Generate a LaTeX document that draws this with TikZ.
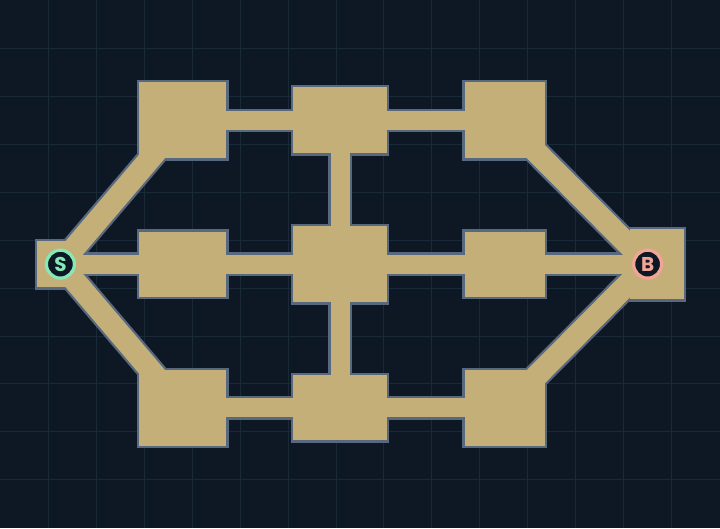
\documentclass[tikz,border=0pt]{standalone}
\usepackage{fontspec}
\newfontfamily\markfont{Poppins}
\usetikzlibrary{positioning}

\definecolor{bgnavy}{HTML}{0E1824}
\definecolor{gridline}{HTML}{1A2938}
\definecolor{sand}{HTML}{C5AF79}
\definecolor{slate}{HTML}{58697F}
\definecolor{mint}{HTML}{86E8B6}
\definecolor{salmon}{HTML}{F2A596}

\pgfdeclarelayer{back}
\pgfdeclarelayer{edges}
\pgfdeclarelayer{floor}
\pgfsetlayers{back,edges,floor,main}

\tikzset{
  room/.style={rectangle, fill=sand, inner sep=0pt},
  wall/.style={draw=slate, line width=4.5pt},
  hall/.style={draw=sand, line width=19pt},
  hallwall/.style={draw=slate, line width=23.5pt},
  ramp/.style={draw=sand, line width=22pt},
  rampwall/.style={draw=slate, line width=26.5pt},
  marker/.style={circle, minimum size=28pt, inner sep=0pt, line width=3.2pt,
    fill=bgnavy, font=\markfont\bfseries\fontsize{20}{20}\selectfont}
}

\begin{document}
\begin{tikzpicture}[x=1pt, y=-1pt, node distance=144pt, on grid]
   % rooms
   \node (mc)[room, minimum width=94pt, minimum height=76pt] at (340,264) {};
   \node (tc)[room, minimum width=94pt, minimum height=66pt, above = of mc] {};
   \node (bc)[room, minimum width=94pt, minimum height=65pt, below = of mc] {};
   \node (ml)[room, minimum width=87pt, minimum height=65pt, left = 157.5pt of mc] {};
   \node (tl)[room, minimum width=87pt, minimum height=76pt, left = 157.5pt of tc] {};
   \node (bl)[room, minimum width=87pt, minimum height=76pt, left = 157.5pt of bc] {};
   \node (mr)[room, minimum width=80pt, minimum height=65pt, right = 165pt of mc] {};
   \node (tr)[room, minimum width=80pt, minimum height=76pt, right = 165pt of tc] {};
   \node (br)[room, minimum width=80pt, minimum height=76pt, right = 165pt of bc] {};
   \node (start)[room, minimum width=46pt, minimum height=46pt, left = 122.5pt of ml] {};
   \node (boss)[room, minimum width=54pt, minimum height=70pt, right = 152pt of mr] {};

   % markers
   \node (s)[marker, draw=mint, text=mint] at (start) {S};
   \node (b)[marker, draw=salmon, text=salmon, right = 143pt of mr] {B};

   % ground and grid
   \begin{pgfonlayer}{back}
      \fill[bgnavy] (0,0) rectangle (720,528);
      \foreach \gx in {48,96,...,672} \draw[gridline, line width=1pt] (\gx,0) -- (\gx,528);
      \foreach \gy in {48,96,...,480} \draw[gridline, line width=1pt] (0,\gy) -- (720,\gy);
   \end{pgfonlayer}

   % outlines of rooms and halls
   \begin{pgfonlayer}{edges}
      \foreach \r in {start,boss,tl,tc,tr,ml,mc,mr,bl,bc,br}
         \draw[wall] (\r.north west) rectangle (\r.south east);
      \draw[hallwall] (start.center) -- (boss.center);
      \draw[hallwall] (tl.center) -- (tc.center);
      \draw[hallwall] (tc.center) -- (tr.center);
      \draw[hallwall] (bl.center) -- (bc.center);
      \draw[hallwall] (bc.center) -- (br.center);
      \draw[hallwall] (tc.center) -- (mc.center);
      \draw[hallwall] (mc.center) -- (bc.center);
      \draw[rampwall] (s.center) -- (tl.center);
      \draw[rampwall] (s.center) -- (bl.center);
      \draw[rampwall] (tr.center) -- (b.center);
      \draw[rampwall] (br.center) -- (b.center);
   \end{pgfonlayer}

   % hall floors
   \begin{pgfonlayer}{floor}
      \draw[hall] (start.center) -- (boss.center);
      \draw[hall] (tl.center) -- (tc.center);
      \draw[hall] (tc.center) -- (tr.center);
      \draw[hall] (bl.center) -- (bc.center);
      \draw[hall] (bc.center) -- (br.center);
      \draw[hall] (tc.center) -- (mc.center);
      \draw[hall] (mc.center) -- (bc.center);
      \draw[ramp] (s.center) -- (tl.center);
      \draw[ramp] (s.center) -- (bl.center);
      \draw[ramp] (tr.center) -- (b.center);
      \draw[ramp] (br.center) -- (b.center);
   \end{pgfonlayer}
\end{tikzpicture}
\end{document}
